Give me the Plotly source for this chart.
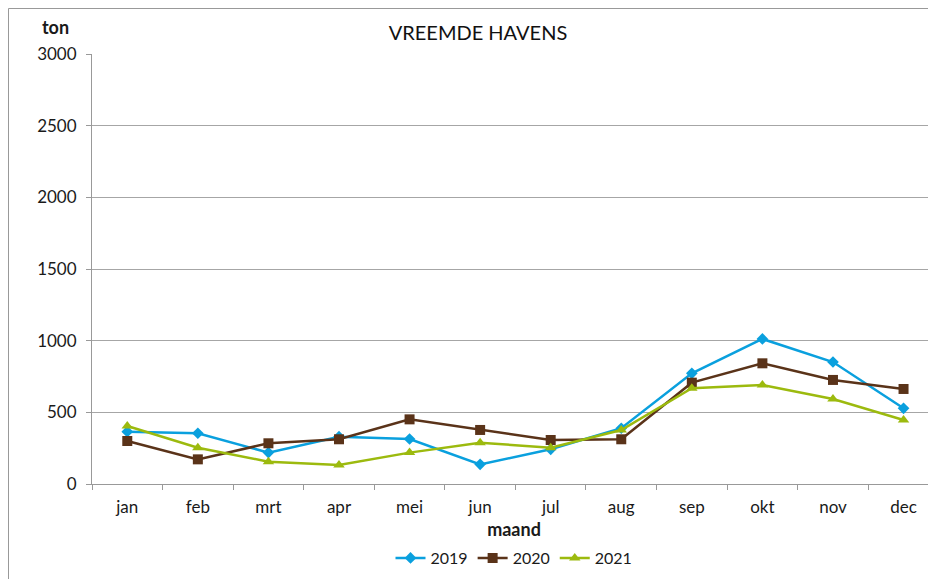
import plotly.graph_objects as go

months = ["jan", "feb", "mrt", "apr", "mei", "jun", "jul", "aug", "sep", "okt", "nov", "dec"]
v2019 = [365, 354, 219, 330, 314, 137, 242, 389, 772, 1012, 851, 528]
v2020 = [300, 172, 284, 312, 451, 377, 307, 312, 707, 842, 726, 663]
v2021 = [405, 253, 156, 133, 219, 288, 253, 377, 668, 691, 593, 447]
yticks = [0, 500, 1000, 1500, 2000, 2500, 3000]

FONT = "Lato"
PW, PH = 844, 430
fig = go.Figure()
fig.add_trace(go.Scatter(x=months, y=v2019, name="2019", mode="lines+markers",
                         line=dict(color="#0AA0DE", width=2.5),
                         marker=dict(symbol="diamond", size=9, color="#0AA0DE")))
fig.add_trace(go.Scatter(x=months, y=v2020, name="2020", mode="lines+markers",
                         line=dict(color="#5A3319", width=2.5),
                         marker=dict(symbol="square", size=10, color="#5A3319")))
fig.add_trace(go.Scatter(x=months, y=v2021, name="2021", mode="lines+markers",
                         line=dict(color="#9CBA0E", width=2.5),
                         marker=dict(symbol="triangle-up", size=10, color="#9CBA0E")))

fig.update_layout(
    width=928, height=571,
    margin=dict(l=84, r=0, t=46, b=95, pad=0),
    paper_bgcolor="white", plot_bgcolor="white",
    font=dict(family=FONT, size=17, color="#1a1a1a"),
    title=dict(text="VREEMDE HAVENS", x=(478-8)/928, xanchor="center", y=1-25/571, yanchor="middle",
               font=dict(family=FONT, size=20, color="#111")),
    showlegend=True,
    legend=dict(orientation="h", x=(514-92)/PW, xanchor="center", y=-74/PH, yanchor="middle",
                font=dict(family=FONT, size=16, color="#1a1a1a"), itemwidth=30, tracegroupgap=0),
    xaxis=dict(type="category", range=[-0.5, 11.46], showgrid=False,
               showline=True, linecolor="#999", linewidth=1,
               ticks="outside", ticklen=5, tickcolor="#999", tickson="boundaries",
               ticklabelstandoff=8,
               tickfont=dict(family=FONT, size=17, color="#1a1a1a"),
               title=dict(text="<b>maand</b>", font=dict(family=FONT, size=18, color="#1a1a1a"), standoff=6)),
    yaxis=dict(range=[0, 3000], tickvals=yticks, showgrid=True, gridcolor="#A6A6A6", gridwidth=1,
               showline=True, linecolor="#999", linewidth=1, zeroline=False,
               ticks="outside", ticklen=5, tickcolor="#999", ticklabelstandoff=6,
               tickfont=dict(family=FONT, size=17, color="#1a1a1a")),
    annotations=[dict(text="<b>ton</b>", xref="paper", yref="paper", x=-(92-55)/PW, y=1+(54-27)/PH,
                      xanchor="center", yanchor="middle", showarrow=False,
                      font=dict(family=FONT, size=18, color="#1a1a1a"))],
    shapes=[dict(type="rect", xref="paper", yref="paper",
                 x0=-83.5/PW, x1=1.2, y0=-1, y1=1+45.5/PH,
                 line=dict(color="#999", width=1), layer="below")],
)

fig.write_html("out.html")
